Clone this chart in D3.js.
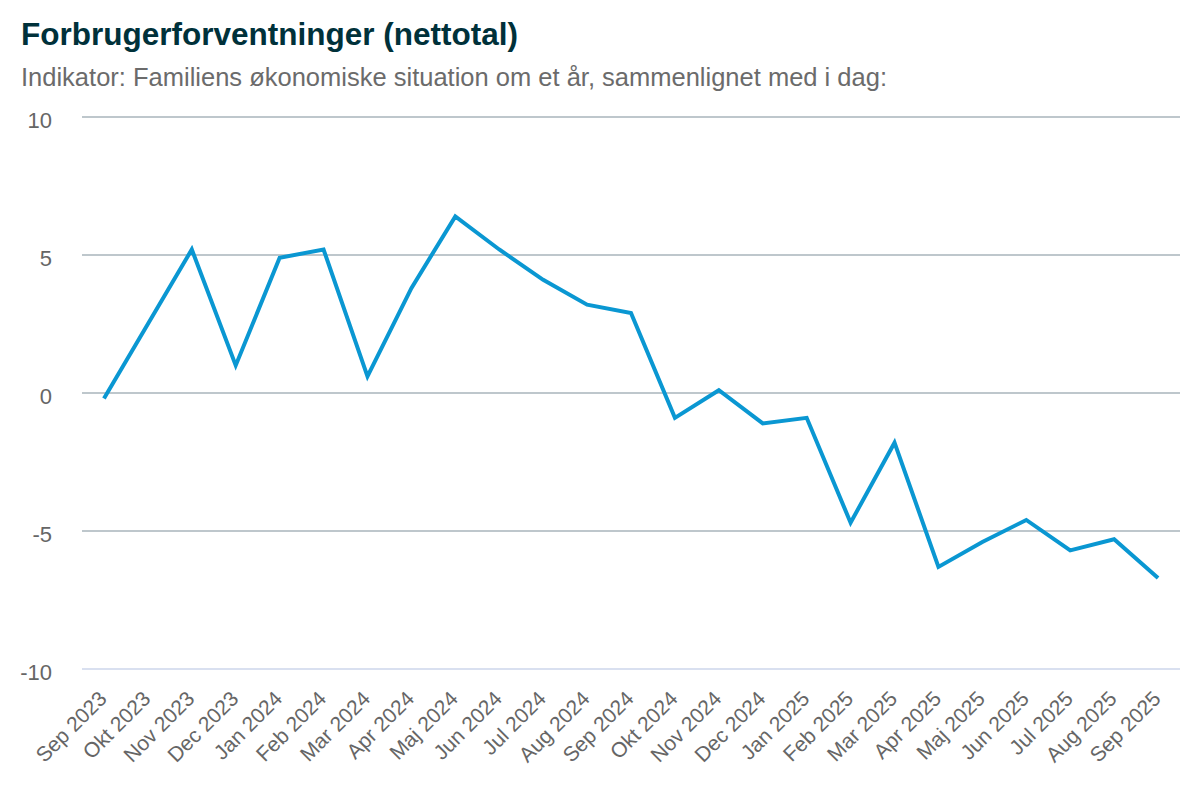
<!DOCTYPE html>
<html>
<head>
<meta charset="utf-8">
<script src="https://cdn.jsdelivr.net/npm/d3@7"></script>
<style>
  body { margin: 0; background: #fff; }
  svg { font-family: "Liberation Sans", Arial, sans-serif; }
</style>
</head>
<body>
<div id="chart"></div>
<script>
// data
var months = ['Sep 2023', 'Okt 2023', 'Nov 2023', 'Dec 2023', 'Jan 2024', 'Feb 2024',
  'Mar 2024', 'Apr 2024', 'Maj 2024', 'Jun 2024', 'Jul 2024', 'Aug 2024', 'Sep 2024',
  'Okt 2024', 'Nov 2024', 'Dec 2024', 'Jan 2025', 'Feb 2025', 'Mar 2025', 'Apr 2025',
  'Maj 2025', 'Jun 2025', 'Jul 2025', 'Aug 2025', 'Sep 2025'];
var values = [-0.2, 2.5, 5.2, 1.0, 4.9, 5.2, 0.6, 3.8, 6.4, 5.2, 4.1, 3.2, 2.9,
  -0.9, 0.1, -1.1, -0.9, -4.7, -1.8, -6.3, -5.4, -4.6, -5.7, -5.3, -6.7];
var yTicks = [-10, -5, 0, 5, 10];

var svgWidth = 1200,
  svgHeight = 800,
  margin = { top: 117, right: 20, bottom: 131, left: 82 },
  width = svgWidth - margin.left - margin.right,
  height = svgHeight - margin.top - margin.bottom;

var svg = d3.select('#chart').append('svg')
  .attr('width', svgWidth)
  .attr('height', svgHeight);

svg.append('text')
  .attr('x', 21).attr('y', 45)
  .attr('font-size', 31.5).attr('font-weight', 'bold')
  .attr('fill', '#00313a')
  .text('Forbrugerforventninger (nettotal)');

svg.append('text')
  .attr('x', 21).attr('y', 86)
  .attr('font-size', 25.5)
  .attr('fill', '#6b6b6b')
  .text('Indikator: Familiens økonomiske situation om et år, sammenlignet med i dag:');

var g = svg.append('g')
  .attr('transform', 'translate(' + margin.left + ',' + margin.top + ')');

var x = d3.scalePoint().domain(months).range([0, width]).padding(0.5);
var y = d3.scaleLinear().domain([-10, 10]).range([height, 0]);

// gridlines
g.selectAll('.grid')
  .data(yTicks)
  .enter().append('line')
  .attr('x1', 0).attr('x2', width)
  .attr('y1', function(d) { return y(d); })
  .attr('y2', function(d) { return y(d); })
  .attr('stroke', function(d) { return d === -10 ? '#ccd6eb' : '#a9b5bb'; })
  .attr('stroke-width', 1.5);

g.selectAll('.ylab')
  .data(yTicks)
  .enter().append('text')
  .attr('x', -30)
  .attr('y', function(d) { return y(d); })
  .attr('dy', '0.5em')
  .attr('text-anchor', 'end')
  .attr('font-size', 22)
  .attr('fill', '#666')
  .text(function(d) { return d; });

// x labels, rotated
g.selectAll('.xlab')
  .data(months)
  .enter().append('text')
  .attr('text-anchor', 'end')
  .attr('font-size', 21)
  .attr('fill', '#666')
  .attr('transform', function(d) {
    return 'translate(' + (x(d) + 4) + ',' + (height + 31) + ') rotate(-45)';
  })
  .text(function(d) { return d; });

var line = d3.line()
  .x(function(d, i) { return x(months[i]); })
  .y(function(d) { return y(d); });

g.append('path')
  .datum(values)
  .attr('fill', 'none')
  .attr('stroke', '#0a97d2')
  .attr('stroke-width', 4)
  .attr('stroke-linejoin', 'miter')
  .attr('d', line);
</script>
</body>
</html>
